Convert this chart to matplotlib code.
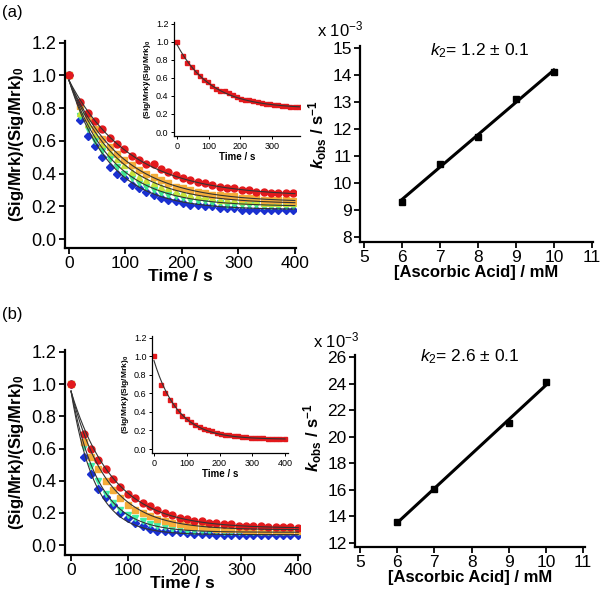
import numpy as np
import matplotlib
matplotlib.use("Agg")
import matplotlib.pyplot as plt
from matplotlib.ticker import FormatStrFormatter

plt.rcParams["font.family"] = ["Liberation Sans", "DejaVu Sans"]
plt.rcParams["mathtext.fontset"] = "custom"
plt.rcParams["mathtext.rm"] = "Liberation Sans"
plt.rcParams["mathtext.it"] = "Liberation Sans:italic"
plt.rcParams["mathtext.bf"] = "Liberation Sans:bold"
plt.rcParams["mathtext.bfit"] = "Liberation Sans:italic:bold"

# ---- panel (a): decay traces, 6-10 mM ascorbic acid ----
t_a = [0, 20, 33, 46, 59, 72, 85, 98, 111, 124, 137, 150, 163, 176, 189, 202,
       215, 228, 241, 254, 267, 280, 293, 306, 319, 332, 345, 358, 371, 384, 397]
red_a = [1.0, 0.84, 0.77, 0.72, 0.67, 0.62, 0.58, 0.55, 0.51, 0.48, 0.46, 0.46, 0.43,
         0.41, 0.39, 0.37, 0.36, 0.35, 0.34, 0.33, 0.32, 0.31, 0.31, 0.30, 0.30,
         0.29, 0.29, 0.28, 0.28, 0.28, 0.28]
orange_a = [1.0, 0.81, 0.74, 0.67, 0.61, 0.56, 0.52, 0.48, 0.45, 0.42, 0.40, 0.38, 0.36,
            0.34, 0.32, 0.31, 0.30, 0.29, 0.28, 0.27, 0.27, 0.26, 0.26, 0.25, 0.25,
            0.25, 0.24, 0.24, 0.24, 0.24, 0.235]
ygreen_a = [1.0, 0.77, 0.70, 0.64, 0.58, 0.53, 0.49, 0.45, 0.41, 0.38, 0.36, 0.34, 0.32,
            0.31, 0.29, 0.28, 0.27, 0.26, 0.26, 0.25, 0.24, 0.24, 0.24, 0.23, 0.23,
            0.23, 0.22, 0.22, 0.22, 0.22, 0.22]
cgreen_a = [1.0, 0.75, 0.67, 0.60, 0.54, 0.49, 0.44, 0.40, 0.37, 0.34, 0.32, 0.30, 0.28,
            0.27, 0.26, 0.25, 0.24, 0.23, 0.23, 0.22, 0.22, 0.21, 0.21, 0.21, 0.21,
            0.21, 0.20, 0.20, 0.20, 0.20, 0.20]
blue_a = [1.0, 0.73, 0.63, 0.57, 0.50, 0.44, 0.40, 0.37, 0.33, 0.31, 0.29, 0.27, 0.25,
          0.24, 0.23, 0.22, 0.21, 0.21, 0.20, 0.20, 0.19, 0.19, 0.19, 0.18, 0.18,
          0.18, 0.18, 0.18, 0.18, 0.175, 0.175]

conc_a = [6, 7, 8, 9, 10]
kobs_a = [9.3, 10.7, 11.7, 13.1, 14.1]          # x 10^-3 s^-1
fit_amp_a = [0.71, 0.745, 0.755, 0.77, 0.79]
fit_off_a = [0.26, 0.225, 0.215, 0.20, 0.18]

# ---- panel (b) ----
t_b = [0, 22, 35, 48, 61, 74, 87, 100, 113, 126, 139, 152, 165, 178, 191, 204,
       217, 230, 243, 256, 269, 282, 295, 308, 321, 334, 347, 360, 373, 386, 399]
red_b = [1.0, 0.69, 0.60, 0.53, 0.47, 0.41, 0.36, 0.32, 0.29, 0.26, 0.24, 0.22, 0.20,
         0.19, 0.17, 0.16, 0.15, 0.15, 0.14, 0.14, 0.13, 0.13, 0.12, 0.12, 0.12,
         0.12, 0.11, 0.11, 0.11, 0.11, 0.105]
orange_b = [1.0, 0.64, 0.55, 0.47, 0.40, 0.34, 0.29, 0.25, 0.22, 0.20, 0.18, 0.16, 0.15,
            0.14, 0.13, 0.12, 0.12, 0.11, 0.11, 0.10, 0.10, 0.10, 0.10, 0.095, 0.095,
            0.09, 0.09, 0.09, 0.09, 0.09, 0.09]
cgreen_b = [1.0, 0.61, 0.49, 0.40, 0.32, 0.26, 0.22, 0.19, 0.17, 0.15, 0.13, 0.12, 0.11,
            0.10, 0.10, 0.09, 0.09, 0.09, 0.085, 0.085, 0.08, 0.08, 0.08, 0.08, 0.08,
            0.08, 0.08, 0.08, 0.08, 0.08, 0.08]
blue_b = [1.0, 0.55, 0.44, 0.35, 0.30, 0.25, 0.20, 0.17, 0.14, 0.12, 0.10, 0.09, 0.085,
          0.08, 0.08, 0.075, 0.07, 0.07, 0.07, 0.065, 0.065, 0.065, 0.065, 0.065, 0.06,
          0.06, 0.06, 0.06, 0.06, 0.06, 0.06]

conc_b = [6, 7, 9, 10]
kobs_b = [13.6, 16.1, 21.0, 24.1]
fit_amp_b = [0.85, 0.86, 0.88, 0.89]
fit_off_b = [0.105, 0.095, 0.08, 0.065]

colors_a = ["#e3191c", "#f5ad3a", "#c6e23a", "#3fe890", "#1a30d0"]
markers_a = ["o", "s", "^", "v", "D"]
colors_b = ["#e3191c", "#f5ad3a", "#3ff0a8", "#1a30d0"]
markers_b = ["o", "s", "v", "D"]

W, H = 600, 593
fig = plt.figure(figsize=(W / 100, H / 100), dpi=100)


def box(l, t, r, b):
    """pixel box (left, top, right, bottom) -> figure fraction rect"""
    return [l / W, (H - b) / H, (r - l) / W, (b - t) / H]


def style(ax, lw=1.6, tick=4, fs=13):
    for s in ("top", "right"):
        ax.spines[s].set_visible(False)
    for s in ("left", "bottom"):
        ax.spines[s].set_linewidth(lw)
    ax.tick_params(direction="out", length=tick, width=lw * 0.8, labelsize=fs, pad=2)


def decay_panel(rect, t, series, colors, markers, kobs, amps, offs, xlim, ylim):
    ax = fig.add_axes(rect)
    tf = np.linspace(0, 400, 300)
    for y, c, m in reversed(list(zip(series, colors, markers))):
        ax.plot(t, y, ls="none", marker=m, ms=5 if m != "D" else 4.2, color=c,
                mec=c, zorder=2)
    for k, a, o in zip(kobs, amps, offs):
        ax.plot(tf, o + a * np.exp(-k * 1e-3 * tf), color="#333333", lw=0.8, zorder=3)
    ax.set_xlim(*xlim)
    ax.set_ylim(*ylim)
    ax.set_xticks([0, 100, 200, 300, 400])
    ax.set_yticks([0, 0.2, 0.4, 0.6, 0.8, 1.0, 1.2])
    ax.yaxis.set_major_formatter(FormatStrFormatter("%.1f"))
    style(ax)
    ax.tick_params(axis="x", labelsize=12.5, pad=1.5)
    ax.set_xlabel("Time / s", fontsize=12.5, fontweight="bold", labelpad=-1)
    ax.set_ylabel(r"(Sig/Mrk)/(Sig/Mrk)$_\mathbf{0}$", fontsize=12, fontweight="bold",
                  labelpad=4)
    return ax


def inset_panel(rect, t, y, k, a, o, xlim, ylim, xticks):
    ax = fig.add_axes(rect)
    ax.patch.set_alpha(0)
    tf = np.linspace(0, 400, 300)
    ax.plot(t, y, ls="none", marker="s", ms=2.6, color="#e3191c", zorder=2)
    ax.plot(tf, o + a * np.exp(-k * 1e-3 * tf), color="#333333", lw=0.8, zorder=3)
    ax.set_xlim(*xlim)
    ax.set_ylim(*ylim)
    ax.set_xticks(xticks)
    ax.set_yticks([0, 0.2, 0.4, 0.6, 0.8, 1.0, 1.2])
    ax.yaxis.set_major_formatter(FormatStrFormatter("%.1f"))
    style(ax, lw=0.9, tick=2.5, fs=6.5)
    ax.tick_params(pad=1.5)
    ax.set_xlabel("Time / s", fontsize=7, fontweight="bold", labelpad=1)
    ax.set_ylabel(r"(Sig/Mrk)/(Sig/Mrk)$_\mathbf{0}$", fontsize=6, fontweight="bold",
                  labelpad=2)
    return ax


def kobs_panel(rect, conc, kobs, xlim, ylim, yticks, label_y):
    ax = fig.add_axes(rect)
    slope, icpt = np.polyfit(conc, kobs, 1)
    xs = np.array([conc[0], conc[-1]])
    ax.plot(xs, slope * xs + icpt, color="black", lw=2.2, zorder=2)
    ax.plot(conc, kobs, ls="none", marker="s", ms=4.8, color="black", zorder=3)
    ax.set_xlim(*xlim)
    ax.set_ylim(*ylim)
    ax.set_xticks([5, 6, 7, 8, 9, 10, 11])
    ax.set_yticks(yticks)
    style(ax, fs=12.5)
    ax.set_xlabel("[Ascorbic Acid] / mM", fontsize=12, fontweight="bold", labelpad=0)
    ax.set_ylabel(r"$\mathbfit{k}_{\mathbf{obs}}$ / s$^{\mathbf{-1}}$", fontsize=12,
                  fontweight="bold")
    ax.yaxis.set_label_coords(-0.135, label_y)
    return ax


# (a)
decay_panel(box(65, 41, 296, 248), t_a, [red_a, orange_a, ygreen_a, cgreen_a, blue_a],
            colors_a, markers_a, kobs_a, fit_amp_a, fit_off_a, (-7, 402), (-0.055, 1.21))
inset_panel(box(174, 22, 300, 136), t_a[:-1], red_a[:-1], kobs_a[0], fit_amp_a[0],
            fit_off_a[0], (-9.5, 388), (-0.044, 1.22), [0, 100, 200, 300])
kobs_panel(box(360, 46, 593, 242), conc_a, kobs_a, (4.9, 11.03), (7.81, 15.07),
           range(8, 16), 0.55)
fig.text(317 / W, 1 - 29 / H, r"x 10$^{-3}$", fontsize=12, va="center", ha="left")
fig.text(480 / W, 1 - 51 / H, r"$k_2$= 1.2 $\pm$ 0.1", fontsize=12.5, va="center",
         ha="center")
fig.text(2 / W, 1 - 12 / H, "(a)", fontsize=12, va="center", ha="left")

# (b)
decay_panel(box(65, 350, 300, 555), t_b, [red_b, orange_b, cgreen_b, blue_b],
            colors_b, markers_b, kobs_b, fit_amp_b, fit_off_b, (-10.6, 403), (-0.0615, 1.212))
inset_panel(box(152, 336, 288, 453), t_b, red_b, kobs_b[0], fit_amp_b[0], fit_off_b[0],
            (-6, 409), (-0.043, 1.22), [0, 100, 200, 300, 400])
kobs_panel(box(355, 355, 585, 547), conc_b, kobs_b, (4.865, 11.05), (11.7, 26.15),
           range(12, 27, 2), 0.57)
fig.text(313 / W, 1 - 340 / H, r"x 10$^{-3}$", fontsize=12, va="center", ha="left")
fig.text(470 / W, 1 - 357 / H, r"$k_2$= 2.6 $\pm$ 0.1", fontsize=12.5, va="center",
         ha="center")
fig.text(2 / W, 1 - 315 / H, "(b)", fontsize=12, va="center", ha="left")

fig.savefig("out.png", dpi=100)
